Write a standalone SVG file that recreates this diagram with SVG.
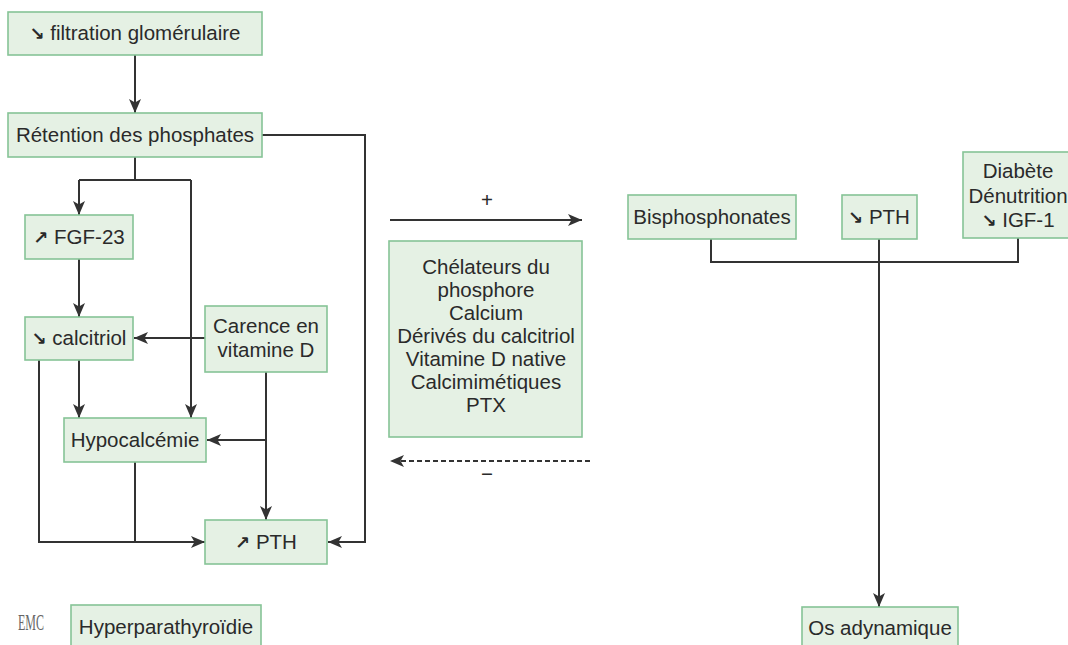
<svg xmlns="http://www.w3.org/2000/svg" width="1068" height="645" viewBox="0 0 1068 645">
  <style>
    .box { fill: #e5f1e4; stroke: #86c496; stroke-width: 1.6; }
    .t { font-family: "Liberation Sans", "DejaVu Sans", Arial, sans-serif; font-size: 20.5px; fill: #2a2a2a; text-anchor: middle; }
    .ar { font-family: "DejaVu Sans", sans-serif; font-size: 18px; font-weight: bold; }
    .ln { fill: none; stroke: #333; stroke-width: 2; }
    .arrow { marker-end: url(#head); }
    .dash { stroke-dasharray: 5 3; }
  </style>
  <defs>
    <marker id="head" markerUnits="userSpaceOnUse" markerWidth="14" markerHeight="12" refX="14" refY="6" orient="auto">
      <path d="M0,0 L14,6 L0,12 L3.5,6 z" fill="#333"/>
    </marker>
  </defs>

  <!-- connectors -->
  <g id="connectors">
    <path class="ln arrow" d="M135,55 V113"/>
    <path class="ln arrow" d="M262,135 H365 V542 H328"/>
    <path class="ln" d="M135,157 V180 M79,180 H191"/>
    <path class="ln arrow" d="M79,180 V215"/>
    <path class="ln arrow" d="M191,180 V418"/>
    <path class="ln arrow" d="M79,259 V317"/>
    <path class="ln arrow" d="M205,338 H134"/>
    <path class="ln arrow" d="M79,360 V418"/>
    <path class="ln arrow" d="M39,360 V542 H205"/>
    <path class="ln" d="M135,462 V542"/>
    <path class="ln arrow" d="M266,372 V520"/>
    <path class="ln arrow" d="M266,440 H207"/>
    <path class="ln arrow" d="M390,220 H582"/>
    <path class="ln arrow dash" d="M590,461 H390"/>
    <path class="ln" d="M711,239 V262 H1018 V238"/>
    <path class="ln arrow" d="M879,239 V607"/>
  </g>

  <g id="filtration">
    <rect class="box" x="8" y="12" width="254" height="43"/>
    <text class="t" x="135" y="40"><tspan class="ar">↘</tspan> filtration glomérulaire</text>
  </g>
  <g id="retention">
    <rect class="box" x="8" y="113" width="254" height="44"/>
    <text class="t" x="135" y="142">Rétention des phosphates</text>
  </g>
  <g id="fgf23">
    <rect class="box" x="25" y="215" width="108" height="44"/>
    <text class="t" x="79" y="244"><tspan class="ar">↗</tspan> FGF-23</text>
  </g>
  <g id="calcitriol">
    <rect class="box" x="25" y="317" width="108" height="43"/>
    <text class="t" x="79" y="345"><tspan class="ar">↘</tspan> calcitriol</text>
  </g>
  <g id="carence">
    <rect class="box" x="205" y="306" width="122" height="66"/>
    <text class="t" x="266" y="333">Carence en</text>
    <text class="t" x="266" y="357">vitamine D</text>
  </g>
  <g id="hypocalcemie">
    <rect class="box" x="64" y="418" width="142" height="44"/>
    <text class="t" x="135" y="447">Hypocalcémie</text>
  </g>
  <g id="pth-up">
    <rect class="box" x="205" y="520" width="122" height="44"/>
    <text class="t" x="266" y="549"><tspan class="ar">↗</tspan> PTH</text>
  </g>
  <g id="emc">
    <text x="31" y="630" font-family="'Liberation Serif', serif" font-size="24" fill="#666" text-anchor="middle" transform="translate(31,0) scale(0.5,1) translate(-31,0)">EMC</text>
  </g>
  <g id="hyperparathyroidie">
    <rect class="box" x="71" y="605" width="190" height="46"/>
    <text class="t" x="166" y="634">Hyperparathyroïdie</text>
  </g>

  <g id="traitements">
    <text class="t" x="487" y="207" font-size="16">+</text>
    <rect class="box" x="389" y="241" width="193" height="196"/>
    <text class="t" x="486" y="274">Chélateurs du</text>
    <text class="t" x="486" y="297">phosphore</text>
    <text class="t" x="486" y="320">Calcium</text>
    <text class="t" x="486" y="343">Dérivés du calcitriol</text>
    <text class="t" x="486" y="366">Vitamine D native</text>
    <text class="t" x="486" y="389">Calcimimétiques</text>
    <text class="t" x="486" y="412">PTX</text>
    <text class="t" x="487" y="481">−</text>
  </g>

  <g id="bisphosphonates">
    <rect class="box" x="628" y="195" width="168" height="44"/>
    <text class="t" x="712" y="224">Bisphosphonates</text>
  </g>
  <g id="pth-down">
    <rect class="box" x="842" y="195" width="75" height="44"/>
    <text class="t" x="879" y="224"><tspan class="ar">↘</tspan> PTH</text>
  </g>
  <g id="diabete">
    <rect class="box" x="963" y="152" width="110" height="86"/>
    <text class="t" x="1018" y="178">Diabète</text>
    <text class="t" x="1018" y="203">Dénutrition</text>
    <text class="t" x="1018" y="227"><tspan class="ar">↘</tspan> IGF-1</text>
  </g>
  <g id="os-adynamique">
    <rect class="box" x="802" y="607" width="156" height="44"/>
    <text class="t" x="880" y="635">Os adynamique</text>
  </g>
</svg>
